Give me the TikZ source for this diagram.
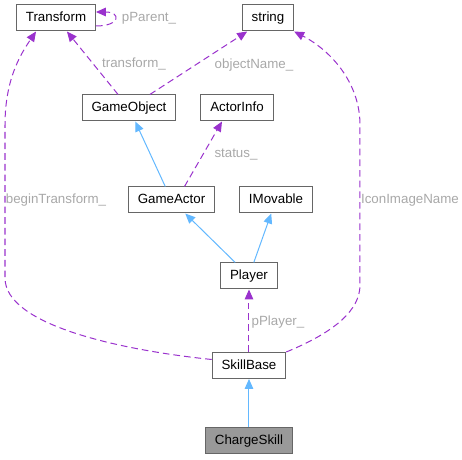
\documentclass[tikz,border=0pt]{standalone}
\usepackage{fontspec}
\setmainfont{Liberation Sans}
\usetikzlibrary{arrows.meta}

\definecolor{usepurple}{HTML}{9A32CD}
\definecolor{baseblue}{HTML}{63B8FF}
\definecolor{boxframe}{HTML}{666666}
\definecolor{rolegray}{HTML}{A8A8A8}
\definecolor{selffill}{HTML}{999999}

\begin{document}
\begin{tikzpicture}[
    x=0.75pt, y=-0.75pt,
    >={Triangle[length=7.5pt,width=6.5pt]},
    line width=0.75pt,
    classbox/.style={draw=boxframe, fill=white, minimum height=19.5pt,
        inner xsep=7pt, inner ysep=0pt, text height=7.5pt, text depth=2pt,
        font=\fontsize{10}{12}\selectfont},
    selfbox/.style={classbox, fill=selffill},
    inherit/.style={->, draw=baseblue},
    usage/.style={->, draw=usepurple, dash pattern=on 5pt off 3pt},
    role/.style={font=\fontsize{10}{12}\selectfont, text=rolegray, inner sep=0pt}
]
  \useasboundingbox (0,0) rectangle (462,460);

  % nodes
  \node[classbox] (Tr)  at (56,18)      {Transform};
  \node[classbox] (Str) at (268,18)     {string};
  \node[classbox] (GO)  at (129,108)    {GameObject};
  \node[classbox] (AI)  at (237,108)    {ActorInfo};
  \node[classbox] (GA)  at (171.5,200)  {GameActor};
  \node[classbox] (IM)  at (276,200)    {IMovable};
  \node[classbox] (Pl)  at (249,276)    {Player};
  \node[classbox] (SB)  at (249,365.5)  {SkillBase};
  \node[selfbox]  (CS)  at (249,440.5)  {ChargeSkill};

  % edges
  \draw[usage] ([shift={(0,8)}]Tr.east) .. controls +(25,0) and +(25,0) .. ([shift={(0,-6)}]Tr.east);
  \draw[usage] (GO) -- (Tr);
  \draw[usage] (GO) -- (Str);
  \draw[inherit] (GA) -- (GO);
  \draw[usage] ([shift={(13,0)}]GA.north) -- ([shift={(-15,0)}]AI.south);
  \draw[inherit] (Pl) -- (GA);
  \draw[inherit] (Pl) -- (IM);
  \draw[usage] (SB) -- (Pl);
  \draw[usage] ([shift={(0,-6)}]SB.west) .. controls (120,350) and (5,325) .. (5,278)
    -- (5,125) .. controls (5,80) and (20,55) .. ([shift={(20,0)}]Tr.south west);
  \draw[usage] (SB.north east) .. controls (335,332) and (360,310) .. (360,285)
    -- (360,125) .. controls (360,82) and (330,50) .. (Str.south east);
  \draw[inherit] (CS) -- (SB);

  % labels
  \node[role] (lParent)  at (149,18)  {pParent\_};
  \node[role] (lTrans)   at (134,64)  {transform\_};
  \node[role] (lName)    at (254,65)  {objectName\_};
  \node[role] (lStatus)  at (236,155) {status\_};
  \node[role] (lBegin)   at (56,200)  {beginTransform\_};
  \node[role] (lIcon)    at (410,200) {IconImageName};
  \node[role] (lPlayer)  at (278,322) {pPlayer\_};
\end{tikzpicture}
\end{document}
